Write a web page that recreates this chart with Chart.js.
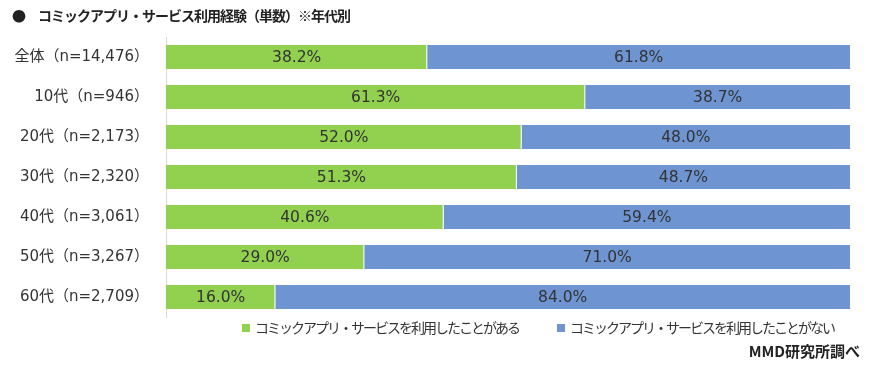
<!DOCTYPE html>
<html lang="ja">
<head>
<meta charset="UTF-8" />
<title>コミックアプリ・サービス利用経験</title>
<script src="https://cdn.jsdelivr.net/npm/chart.js"></script>
<style>
  body { margin: 0; background: #fff; font-family: "Noto Sans CJK JP", sans-serif; color: #333; }
  .wrap { position: relative; width: 871px; height: 366px; }
  canvas { position: absolute; left: 0; top: 0; }
  .title { position: absolute; left: 12px; top: 5px; font-size: 14px; font-weight: bold; color: #222; letter-spacing: -1px; }
  .title span { margin-right: 13px; }
  .legend { position: absolute; top: 317px; font-size: 14px; color: #333; white-space: nowrap; letter-spacing: -2px; }
  .legend i { display: inline-block; width: 8px; height: 8px; margin-right: 5px; vertical-align: 1px; }
  .source { position: absolute; right: 11px; top: 340px; font-size: 15px; font-weight: bold; color: #222; }
</style>
</head>
<body>
<div class="wrap">
  <canvas id="chart" width="871" height="366"></canvas>
  <div class="title"><span>●</span>コミックアプリ・サービス利用経験（単数）※年代別</div>
  <div class="legend" style="left:242px"><i style="background:#92d050"></i>コミックアプリ・サービスを利用したことがある</div>
  <div class="legend" style="left:557px"><i style="background:#6f94d2"></i>コミックアプリ・サービスを利用したことがない</div>
  <div class="source">MMD研究所調べ</div>
</div>
<script>
  const categories = ['全体（n=14,476）', '10代（n=946）', '20代（n=2,173）', '30代（n=2,320）', '40代（n=3,061）', '50代（n=3,267）', '60代（n=2,709）'];
  const usedValues = [38.2, 61.3, 52.0, 51.3, 40.6, 29.0, 16.0];
  const notUsedValues = [61.8, 38.7, 48.0, 48.7, 59.4, 71.0, 84.0];
  const seriesNames = ['コミックアプリ・サービスを利用したことがある', 'コミックアプリ・サービスを利用したことがない'];

  const fontFamily = '"DejaVu Sans", "Noto Sans CJK JP", sans-serif';

  // 棒の中央に値を描く
  const valueLabels = {
    id: 'valueLabels',
    afterDatasetsDraw(chart) {
      const ctx = chart.ctx;
      ctx.save();
      ctx.font = '15.5px ' + fontFamily;
      ctx.fillStyle = '#333';
      ctx.textAlign = 'center';
      ctx.textBaseline = 'middle';
      chart.data.datasets.forEach((ds, i) => {
        chart.getDatasetMeta(i).data.forEach((bar, j) => {
          const x = (bar.x + bar.base) / 2;
          ctx.fillText(ds.data[j].toFixed(1) + '%', x, bar.y + 1);
        });
      });
      ctx.restore();
    }
  };

  new Chart(document.getElementById('chart'), {
    type: 'bar',
    data: {
      labels: categories,
      datasets: [
        { label: seriesNames[0], data: usedValues, backgroundColor: '#92d050', borderColor: '#fff', borderWidth: { right: 1 }, borderSkipped: false },
        { label: seriesNames[1], data: notUsedValues, backgroundColor: '#6f94d2', borderWidth: 0 }
      ]
    },
    options: {
      indexAxis: 'y',
      responsive: false,
      animation: false,
      layout: { padding: { top: 37, bottom: 49, right: 21, left: 0 } },
      datasets: { bar: { categoryPercentage: 1, barPercentage: 0.6 } },
      plugins: { legend: { display: false }, tooltip: { enabled: false } },
      scales: {
        x: { stacked: true, min: 0, max: 100, display: false },
        y: {
          stacked: true,
          afterFit(scale) { scale.width = 166; },
          grid: { drawOnChartArea: false, drawTicks: false },
          border: { color: '#d9d9d9', width: 1 },
          ticks: { padding: 17, color: '#333', font: { family: fontFamily, size: 15 } }
        }
      }
    },
    plugins: [valueLabels]
  });
</script>
</body>
</html>
